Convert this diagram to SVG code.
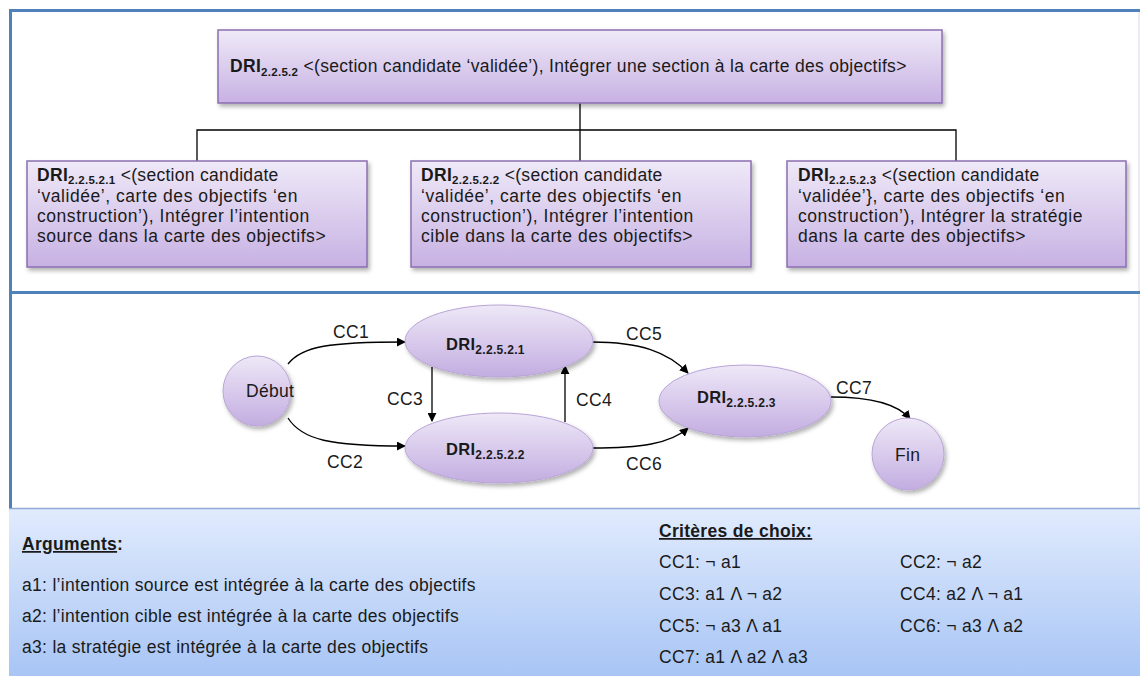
<svg xmlns="http://www.w3.org/2000/svg" width="1140" height="676" viewBox="0 0 1140 676">
<defs>
<linearGradient id="gBox" x1="0" y1="0" x2="0" y2="1">
<stop offset="0" stop-color="#efe9f8"/>
<stop offset="1" stop-color="#c7b1e3"/>
</linearGradient>
<linearGradient id="gEll" x1="0" y1="0" x2="0" y2="1">
<stop offset="0" stop-color="#eee8f7"/>
<stop offset="1" stop-color="#c3ade1"/>
</linearGradient>
<linearGradient id="gPanel" x1="0" y1="0" x2="0" y2="1">
<stop offset="0" stop-color="#e1ebfd"/>
<stop offset="1" stop-color="#a8c5f5"/>
</linearGradient>
<filter id="sh" x="-10%" y="-10%" width="125%" height="130%">
<feDropShadow dx="2" dy="3" stdDeviation="2" flood-color="#000" flood-opacity="0.3"/>
</filter>
<marker id="arr" viewBox="0 0 10 10" refX="9" refY="5" markerWidth="9" markerHeight="9" markerUnits="userSpaceOnUse" orient="auto">
<path d="M0,0 L10,5 L0,10 Z" fill="#000"/>
</marker>
</defs>
<style>
.t{font-family:"Liberation Sans",Arial,sans-serif;font-size:17.5px;letter-spacing:0.3px;fill:#1a1a1a}
.bx{letter-spacing:0.55px}
.b{font-weight:bold}
.sub{font-size:11.5px;font-weight:bold}
.esub{font-size:12px;font-weight:bold}
.box{fill:url(#gBox);stroke:#8a6fb0;stroke-width:1.5;filter:url(#sh)}
.ell{fill:url(#gEll);stroke:#b9a5d6;stroke-width:1;filter:url(#sh)}
.frame{stroke:#4f81bd;stroke-width:3;fill:none}
.tree{stroke:#000;stroke-width:1.3;fill:none}
.edge{stroke:#000;stroke-width:1.3;fill:none;marker-end:url(#arr)}
.u{text-decoration:underline}
</style>

<!-- panels / frame -->
<rect x="9" y="508" width="1131" height="168" fill="url(#gPanel)"/>
<line x1="9" y1="508.5" x2="1140" y2="508.5" stroke="#8eacd6" stroke-width="1.5"/>
<line x1="1139" y1="11" x2="1139" y2="508" stroke="#d5dce6" stroke-width="1"/>
<path class="frame" d="M10.5,508 V10.5 H1140"/>
<line class="frame" x1="10" y1="292.5" x2="1140" y2="292.5"/>

<g id="connectors">
<path class="tree" d="M580,103 V130 M197,161 V130 H956 V161 M580,130 V161"/>
<path class="edge" d="M288,364 C302,346 330,342 405,342"/>
<path class="edge" d="M288,418 C302,440 330,446 405,446"/>
<path class="edge" d="M432,367 V421"/>
<path class="edge" d="M565,422 V366"/>
<path class="edge" d="M592,342 C640,342 668,352 688,373"/>
<path class="edge" d="M592,448 C640,448 670,444 688,428"/>
<path class="edge" d="M831,397 C872,397 898,404 910,419"/>
<text class="t" x="333" y="338">CC1</text>
<text class="t" x="327" y="468">CC2</text>
<text class="t" x="387" y="405">CC3</text>
<text class="t" x="576" y="406">CC4</text>
<text class="t" x="626" y="340">CC5</text>
<text class="t" x="626" y="470">CC6</text>
<text class="t" x="836" y="394">CC7</text>
</g>

<g id="node-top">
<rect class="box" x="218" y="30" width="724" height="73"/>
<text class="t" x="230" y="72"><tspan class="b">DRI</tspan><tspan class="sub" dy="4">2.2.5.2</tspan><tspan dy="-4"> &lt;(section candidate ‘validée’), Intégrer une section à la carte des objectifs&gt;</tspan></text>
</g>
<g id="node-box1">
<rect class="box" x="27" y="161" width="340" height="106"/>
<text class="t" x="37" y="181"><tspan class="b">DRI</tspan><tspan class="sub" dy="3">2.2.5.2.1</tspan><tspan dy="-3"> &lt;(section candidate</tspan></text>
<text class="t bx" x="37" y="202">‘validée’, carte des objectifs  ‘en</text>
<text class="t bx" x="37" y="222">construction’), Intégrer l’intention</text>
<text class="t bx" x="37" y="242">source dans la carte des objectifs&gt;</text>
</g>
<g id="node-box2">
<rect class="box" x="411" y="161" width="340" height="106"/>
<text class="t" x="421" y="181"><tspan class="b">DRI</tspan><tspan class="sub" dy="3">2.2.5.2.2</tspan><tspan dy="-3"> &lt;(section candidate</tspan></text>
<text class="t bx" x="421" y="202">‘validée’, carte des objectifs  ‘en</text>
<text class="t bx" x="421" y="222">construction’), Intégrer l’intention</text>
<text class="t bx" x="421" y="242">cible dans la carte des objectifs&gt;</text>
</g>
<g id="node-box3">
<rect class="box" x="787" y="161" width="339" height="106"/>
<text class="t" x="798" y="181"><tspan class="b">DRI</tspan><tspan class="sub" dy="3">2.2.5.2.3</tspan><tspan dy="-3"> &lt;(section candidate</tspan></text>
<text class="t bx" x="798" y="202">‘validée’}, carte des objectifs ‘en</text>
<text class="t bx" x="798" y="222">construction’), Intégrer la stratégie</text>
<text class="t bx" x="798" y="242">dans la carte des objectifs&gt;</text>
</g>

<g id="node-debut">
<ellipse class="ell" cx="257" cy="391" rx="34" ry="35"/>
<text class="t" x="246" y="397">Début</text>
</g>
<g id="node-dri1">
<ellipse class="ell" cx="499" cy="341" rx="94" ry="36"/>
<text class="t" x="446" y="350"><tspan class="b" style="font-size:16.5px">DRI</tspan><tspan class="esub" dy="4">2.2.5.2.1</tspan></text>
</g>
<g id="node-dri2">
<ellipse class="ell" cx="499" cy="448" rx="94" ry="35"/>
<text class="t" x="446" y="455"><tspan class="b" style="font-size:16.5px">DRI</tspan><tspan class="esub" dy="4">2.2.5.2.2</tspan></text>
</g>
<g id="node-dri3">
<ellipse class="ell" cx="745" cy="401" rx="86" ry="36"/>
<text class="t" x="697" y="403"><tspan class="b" style="font-size:16.5px">DRI</tspan><tspan class="esub" dy="4">2.2.5.2.3</tspan></text>
</g>
<g id="node-fin">
<ellipse class="ell" cx="908" cy="454" rx="36" ry="36"/>
<text class="t" x="895" y="461">Fin</text>
</g>

<g id="arguments">
<text class="t" x="22" y="550"><tspan class="b u">Arguments</tspan><tspan class="b">:</tspan></text>
<text class="t" x="22" y="591">a1: l’intention source est intégrée à la carte des objectifs</text>
<text class="t" x="22" y="622">a2: l’intention cible est intégrée à la carte des objectifs</text>
<text class="t" x="22" y="653">a3: la stratégie est intégrée à la carte des objectifs</text>
</g>
<g id="criteres">
<text class="t b u" x="659" y="537">Critères de choix:</text>
<text class="t" x="659" y="568">CC1: ¬ a1</text>
<text class="t" x="659" y="600">CC3: a1 Λ ¬ a2</text>
<text class="t" x="659" y="632">CC5: ¬ a3 Λ a1</text>
<text class="t" x="659" y="663">CC7: a1 Λ a2 Λ a3</text>
<text class="t" x="900" y="568">CC2: ¬ a2</text>
<text class="t" x="900" y="600">CC4: a2 Λ ¬ a1</text>
<text class="t" x="900" y="632">CC6: ¬ a3 Λ a2</text>
</g>
</svg>
